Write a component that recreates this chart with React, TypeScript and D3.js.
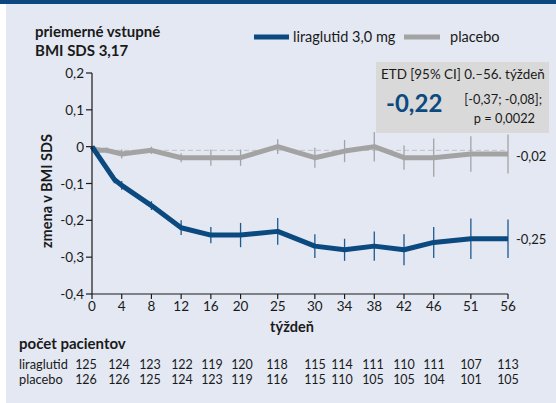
import React from "react";
import * as d3 from "d3";

const liraWeeks = [0, 3, 4, 8, 12, 16, 20, 25, 30, 34, 38, 42, 46, 51, 56];
const liraValues = [0, -0.089, -0.105, -0.16, -0.22, -0.24, -0.24, -0.23, -0.27, -0.28, -0.27, -0.28, -0.26, -0.25, -0.25];
const liraErr = [0, 0.01, 0.012, 0.012, 0.02, 0.022, 0.033, 0.036, 0.032, 0.03, 0.04, 0.042, 0.042, 0.055, 0.052];

const placWeeks = [0, 1, 2, 4, 8, 12, 16, 20, 25, 30, 34, 38, 42, 46, 51, 56];
const placValues = [-0.005, -0.01, -0.01, -0.02, -0.01, -0.03, -0.03, -0.03, 0, -0.03, -0.012, 0, -0.03, -0.03, -0.02, -0.02];
const placErr = [0, 0.008, 0.008, 0.012, 0.01, 0.012, 0.022, 0.022, 0.02, 0.027, 0.03, 0.04, 0.033, 0.052, 0.048, 0.053];

const xTicks = [0, 4, 8, 12, 16, 20, 25, 30, 34, 38, 42, 46, 51, 56];
const yTicks = [0.2, 0.1, 0, -0.1, -0.2, -0.3, -0.4];

const countLira = [125, 124, 123, 122, 119, 120, 118, 115, 114, 111, 110, 111, 107, 113];
const countPlac = [126, 126, 125, 124, 123, 119, 116, 115, 110, 105, 105, 104, 101, 105];
const countX = [86, 119, 150, 182, 212, 242, 277, 315, 342, 373, 404, 434, 471, 508];

const BLUE = "#0b4a80";
const GRAY = "#a3a3a3";
const INK = "#1a1a1a";
const FONT = "Lato, 'Open Sans', sans-serif";

const fmt = (v: number) => (Math.abs(v) < 1e-9 ? "0" : v.toFixed(1).replace(".", ","));

export default function App() {
  const W = 556, H = 403;
  const x = d3.scaleLinear().domain([0, 56]).range([92, 508]);
  const y = d3.scaleLinear().domain([-0.4, 0.2]).range([294, 73]);
  const line = d3.line<[number, number]>().x(d => x(d[0])).y(d => y(d[1]));
  const liraPts = liraWeeks.map((w, i) => [w, liraValues[i]] as [number, number]);
  const placPts = placWeeks.map((w, i) => [w, placValues[i]] as [number, number]);

  return (
    <svg width={W} height={H} style={{ position: "absolute", left: 0, top: 0 }} fontFamily={FONT}>
      <rect x={0} y={0} width={W} height={H} fill="#ffffff" />
      <rect x={6} y={0} width={W - 6} height={H} fill="#e3e8f2" />
      <rect x={0} y={0} width={W} height={4} fill="#0d477f" />

      <text x={35} y={37} fontSize={15} fontWeight="bold" fill={INK}>priemerné vstupné</text>
      <text x={35} y={56} fontSize={15} fontWeight="bold" fill={INK}>BMI SDS 3,17</text>

      {/* legend */}
      <line x1={254} x2={289} y1={37} y2={37} stroke={BLUE} strokeWidth={5} />
      <text x={293} y={42} fontSize={14.5} fill={INK}>liraglutid 3,0 mg</text>
      <line x1={404} x2={440} y1={37} y2={37} stroke={GRAY} strokeWidth={5} />
      <text x={450} y={42} fontSize={14.5} fill={INK}>placebo</text>

      {/* dashed reference */}
      <line x1={x(0)} x2={x(56)} y1={y(-0.01)} y2={y(-0.01)} stroke="#c2c2c2" strokeWidth={1} strokeDasharray="5,3" />

      {/* ETD box */}
      <rect x={376} y={62} width={173} height={71} fill="#d9d9d9" />
      <text x={381} y={79} fontSize={13.4} fill={INK}>ETD [95% CI] 0.–56. týždeň</text>
      <text x={386} y={112} fontSize={24} fontWeight="bold" fill={BLUE}>-0,22</text>
      <text x={542} y={104} fontSize={12.8} textAnchor="end" fill={INK}>[-0,37; -0,08];</text>
      <text x={535} y={123} fontSize={12.8} textAnchor="end" fill={INK}>p = 0,0022</text>

      {/* error bars + lines */}
      {placPts.map((d, i) => placErr[i] > 0 ? (
        <line key={"pe" + i} x1={x(d[0])} x2={x(d[0])} y1={y(d[1] + placErr[i])} y2={y(d[1] - placErr[i])} stroke={GRAY} strokeWidth={1.3} />
      ) : null)}
      <path d={line(placPts) || ""} fill="none" stroke={GRAY} strokeWidth={5} strokeLinejoin="round" />
      {liraPts.map((d, i) => liraErr[i] > 0 ? (
        <line key={"le" + i} x1={x(d[0])} x2={x(d[0])} y1={y(d[1] + liraErr[i])} y2={y(d[1] - liraErr[i])} stroke="#1d5a8f" strokeWidth={1.3} />
      ) : null)}
      <path d={line(liraPts) || ""} fill="none" stroke={BLUE} strokeWidth={5} strokeLinejoin="round" />

      {/* end labels */}
      <text x={516} y={y(placValues[placValues.length - 1]) + 7} fontSize={13} fill={INK}>-0,02</text>
      <text x={516} y={y(liraValues[liraValues.length - 1]) + 5} fontSize={13} fill={INK}>-0,25</text>

      {/* axes */}
      <line x1={x(0)} x2={x(0)} y1={y(0.2)} y2={y(-0.4)} stroke={INK} strokeWidth={1.2} />
      <line x1={x(0)} x2={x(56)} y1={y(-0.4)} y2={y(-0.4)} stroke={INK} strokeWidth={1.2} />
      {yTicks.map(t => (
        <g key={"yt" + t}>
          <line x1={x(0) - 6} x2={x(0)} y1={y(t)} y2={y(t)} stroke={INK} strokeWidth={1.2} />
          <text x={84} y={y(t) + 5} fontSize={13.5} textAnchor="end" fill={INK}>{fmt(t)}</text>
        </g>
      ))}
      {xTicks.map(t => (
        <g key={"xt" + t}>
          <line x1={x(t)} x2={x(t)} y1={y(-0.4)} y2={y(-0.4) + 5} stroke={INK} strokeWidth={1.2} />
          <text x={x(t)} y={311} fontSize={13.5} textAnchor="middle" fill={INK}>{t}</text>
        </g>
      ))}
      <text x={292} y={332} fontSize={14.5} fontWeight="bold" textAnchor="middle" fill={INK}>týždeň</text>
      <text transform="translate(52,191) rotate(-90)" fontSize={14.5} fontWeight="bold" textAnchor="middle" fill={INK}>zmena v BMI SDS</text>

      {/* patient counts */}
      <text x={19} y={349} fontSize={15} fontWeight="bold" fill={INK}>počet pacientov</text>
      <text x={19} y={369} fontSize={12.8} fill={INK}>liraglutid</text>
      <text x={19} y={384} fontSize={12.8} fill={INK}>placebo</text>
      {countLira.map((c, i) => (
        <text key={"cl" + i} x={countX[i]} y={369} fontSize={12.5} textAnchor="middle" fill={INK}>{c}</text>
      ))}
      {countPlac.map((c, i) => (
        <text key={"cp" + i} x={countX[i]} y={384} fontSize={12.5} textAnchor="middle" fill={INK}>{c}</text>
      ))}
    </svg>
  );
}
